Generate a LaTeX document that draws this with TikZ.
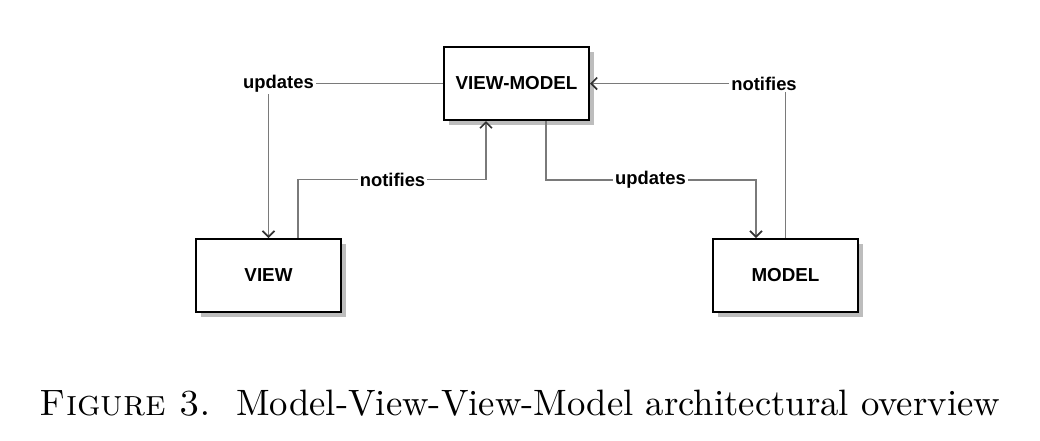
\documentclass[tikz,border=0pt]{standalone}
\usepackage{fontspec}
\usepackage{graphicx}
\newfontfamily\labelfont{Liberation Sans}
\usetikzlibrary{calc,arrows.meta}
\definecolor{linegray}{HTML}{7A7A7A}
\definecolor{shadowgray}{HTML}{BDBDBD}
\tikzset{
  box/.style={draw=black, line width=1pt, fill=white, minimum width=72.5pt, minimum height=36.5pt, inner sep=0pt,
    font=\labelfont\bfseries\fontsize{9.4}{10}\selectfont},
  shadowbox/.style={fill=shadowgray, draw=none, minimum width=72.5pt, minimum height=36.5pt, inner sep=0pt},
  conn/.style={draw=linegray, line width=0.65pt, -{Straight Barb[length=3pt,width=6pt,line width=0.8pt,color=black!80]}},
  elabel/.style={fill=white, inner sep=1pt, font=\labelfont\bfseries\fontsize{9.2}{10}\selectfont},
}
\begin{document}
\begin{tikzpicture}[x=0.5pt,y=-0.5pt]
\useasboundingbox (0,0) rectangle (1040,440);
% shadows
\node[shadowbox] at (521.5,88.5) {};
\node[shadowbox] at (273.5,280.5) {};
\node[shadowbox] at (790.5,280.5) {};
% boxes
\node[box] (vm) at (516.5,83.5) {VIEW-MODEL};
\node[box] (view) at (268.5,275.5) {VIEW};
\node[box] (model) at (785.5,275.5) {MODEL};
% coordinates
\coordinate (c1) at (vm.west -| view.north);
\coordinate (v2) at ($(view.north)+(29.5,0)$);
\coordinate (m2) at ($(vm.south)+(-30.5,0)$);
\coordinate (vmb) at ($(vm.south)+(29.5,0)$);
\coordinate (mt) at ($(model.north)+(-29.5,0)$);
\coordinate (c4) at (model.north |- vm.east);
% connectors
\draw[conn] (vm.west) -- (c1) -- (view.north);
\draw[conn] (v2) -- (v2 |- 0,179.5) -- (m2 |- 0,179.5) -- (m2);
\draw[conn] (model.north) -- (c4) -- (vm.east);
\draw[conn] (vmb) -- (vmb |- 0,180) -- (mt |- 0,180) -- (mt);
% labels
\node[elabel] (l1) at (278.5,83.5) {updates};
\node[elabel] (l2) at (392.5,179.5) {notifies};
\node[elabel] (l3) at (764,83.5) {notifies};
\node[elabel] (l4) at (650.5,180) {updates};
% caption
\node[anchor=base, inner sep=0pt] (cap) at (520,415) {\resizebox{480pt}{!}{\fontsize{10}{12}\selectfont\textsc{Figure 3.}\ \ Model-View-View-Model architectural overview}};
\end{tikzpicture}
\end{document}
